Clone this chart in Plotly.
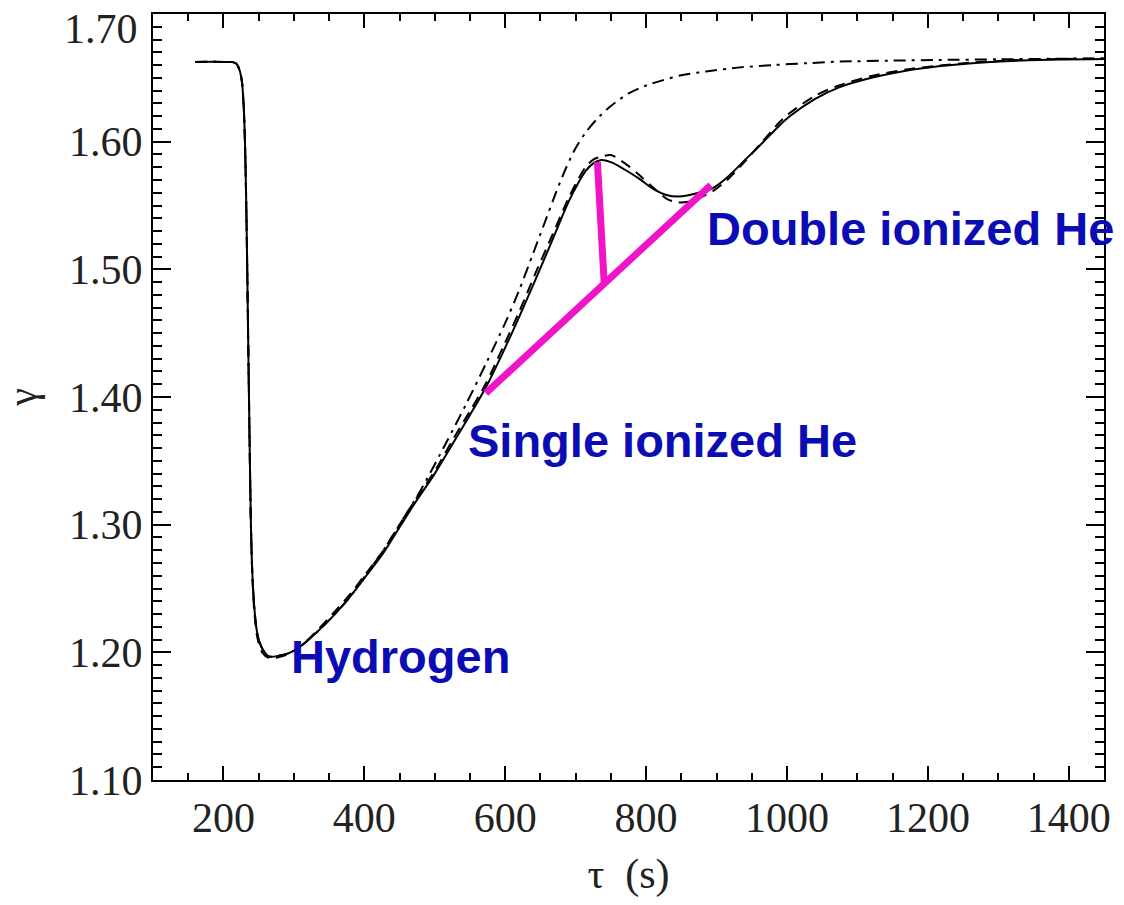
import plotly.graph_objects as go

# Adiabatic index gamma versus time tau (s) for three model runs
tau_solid = [160, 200, 213, 218, 222, 226, 229, 231, 233, 235, 237, 239, 241, 244, 248, 255,
             265, 280, 293, 310, 331, 355, 379, 400, 426, 450, 473, 500, 525, 550, 573, 596,
             620, 643, 667, 690, 705, 714, 725, 735, 750, 770, 790, 810, 830, 845, 860, 880,
             894, 915, 941, 965, 989, 1003, 1040, 1074, 1120, 1169, 1215, 1263, 1310, 1358, 1450]
gamma_solid = [1.6625, 1.6625, 1.6623, 1.6612, 1.6575, 1.648, 1.625, 1.590, 1.530, 1.450, 1.370, 1.300, 1.262, 1.234, 1.215, 1.203,
               1.1967, 1.1975, 1.1994, 1.205, 1.215, 1.228, 1.243, 1.258, 1.277, 1.298, 1.318, 1.340, 1.363, 1.386, 1.408, 1.434,
               1.463, 1.492, 1.523, 1.553, 1.569, 1.577, 1.583, 1.5855, 1.584, 1.578, 1.571, 1.563, 1.558, 1.557, 1.558, 1.561,
               1.5635, 1.572, 1.586, 1.599, 1.6125, 1.6195, 1.6335, 1.6425, 1.650, 1.6555, 1.659, 1.6615, 1.663, 1.664, 1.6647]

tau_dashed = tau_solid
gamma_dashed = [1.6625, 1.6625, 1.6623, 1.6612, 1.6575, 1.648, 1.625, 1.590, 1.530, 1.450, 1.370, 1.300, 1.260, 1.231, 1.212, 1.200,
                1.1955, 1.1965, 1.1990, 1.205, 1.216, 1.230, 1.245, 1.260, 1.279, 1.300, 1.320, 1.342, 1.366, 1.389, 1.411, 1.438,
                1.467, 1.497, 1.527, 1.556, 1.572, 1.580, 1.586, 1.588, 1.5895, 1.583, 1.574, 1.564, 1.555, 1.5525, 1.553, 1.557,
                1.561, 1.570, 1.585, 1.600, 1.615, 1.622, 1.636, 1.644, 1.6515, 1.6565, 1.6595, 1.662, 1.6635, 1.6645, 1.665]

tau_dashdot = [160, 200, 213, 218, 222, 226, 229, 231, 233, 235, 237, 239, 241, 244, 248, 255,
               265, 280, 293, 310, 331, 355, 379, 400, 426, 450, 480, 516, 545, 573, 600, 620,
               640, 657, 672, 686, 700, 714, 729, 750, 776, 800, 823, 850, 885, 930, 980, 1030,
               1075, 1150, 1216, 1300, 1450]
gamma_dashdot = [1.6625, 1.6625, 1.6623, 1.6612, 1.6575, 1.648, 1.625, 1.590, 1.530, 1.450, 1.370, 1.300, 1.262, 1.234, 1.215, 1.203,
                 1.1967, 1.1975, 1.1994, 1.205, 1.215, 1.228, 1.243, 1.259, 1.279, 1.300, 1.327, 1.364, 1.395, 1.4265, 1.458, 1.484,
                 1.513, 1.538, 1.560, 1.579, 1.595, 1.607, 1.617, 1.628, 1.638, 1.644, 1.648, 1.652, 1.655, 1.658, 1.660, 1.6615,
                 1.6627, 1.6635, 1.664, 1.6645, 1.6653]

# Helium ionization markers
he_base_tau = [572.5, 891.8]
he_base_gamma = [1.403, 1.566]
he_peak_tau = [730.9, 740.4]
he_peak_gamma = [1.584, 1.490]

labels = ["Hydrogen", "Single ionized He", "Double ionized He"]
label_tau = [293, 544, 883]
label_gamma = [1.197, 1.366, 1.532]

x_ticks = [200, 400, 600, 800, 1000, 1200, 1400]
y_ticks = [1.10, 1.20, 1.30, 1.40, 1.50, 1.60, 1.70]
y_ticktext = ["1.10", "1.20", "1.30", "1.40", "1.50", "1.60", ""]
top_label = "1.70"

serif = "Liberation Serif"
magenta = "#F014C8"
label_blue = "#0C0CB4"
tick_color = "#222"

fig = go.Figure()
fig.add_trace(go.Scatter(x=tau_dashdot, y=gamma_dashdot, mode="lines",
                         line=dict(color="black", width=2, dash="12px,6px,3px,6px",
                                   shape="spline", smoothing=0.8)))
fig.add_trace(go.Scatter(x=tau_dashed, y=gamma_dashed, mode="lines",
                         line=dict(color="black", width=2, dash="11px,7px",
                                   shape="spline", smoothing=0.8)))
fig.add_trace(go.Scatter(x=tau_solid, y=gamma_solid, mode="lines",
                         line=dict(color="black", width=2, shape="spline", smoothing=0.8)))
fig.add_trace(go.Scatter(x=he_base_tau, y=he_base_gamma, mode="lines",
                         line=dict(color=magenta, width=7)))
fig.add_trace(go.Scatter(x=he_peak_tau, y=he_peak_gamma, mode="lines",
                         line=dict(color=magenta, width=7)))

for text, tx, ty in zip(labels, label_tau, label_gamma):
    fig.add_annotation(x=tx, y=ty, text=text, showarrow=False, xanchor="left", yanchor="middle",
                       font=dict(family="Liberation Sans", size=47, color=label_blue, weight="bold"))

# Top y tick label sits just below the frame corner
fig.add_annotation(xref="paper", x=0, xanchor="right", xshift=-13, yref="y", y=1.688,
                   yanchor="middle", text=top_label, showarrow=False,
                   font=dict(family=serif, size=42, color=tick_color))

axis_common = dict(showline=True, linecolor="black", linewidth=2, mirror="allticks",
                   ticks="inside", tickcolor="black", tickwidth=2, showgrid=False, zeroline=False,
                   automargin=False, tickfont=dict(family=serif, size=42, color=tick_color))

fig.update_xaxes(range=[100, 1450], tickvals=x_ticks, ticklen=14,
                 minor=dict(ticks="inside", dtick=50, tick0=0, ticklen=7, tickwidth=1.5, tickcolor="black"),
                 title=dict(text="τ  (s)", font=dict(family=serif, size=42, color=tick_color), standoff=18),
                 **axis_common)
fig.update_yaxes(range=[1.10, 1.70], tickvals=y_ticks, ticktext=y_ticktext, ticklen=18,
                 minor=dict(ticks="inside", dtick=0.01, tick0=0, ticklen=9, tickwidth=1.5, tickcolor="black"),
                 title=dict(text="γ", font=dict(family=serif, size=40, color=tick_color), standoff=40),
                 **axis_common)

fig.update_layout(width=1124, height=905, margin=dict(l=153, r=20, t=14, b=125, autoexpand=False),
                  plot_bgcolor="white", paper_bgcolor="white", showlegend=False)

fig.write_html("out.html")
